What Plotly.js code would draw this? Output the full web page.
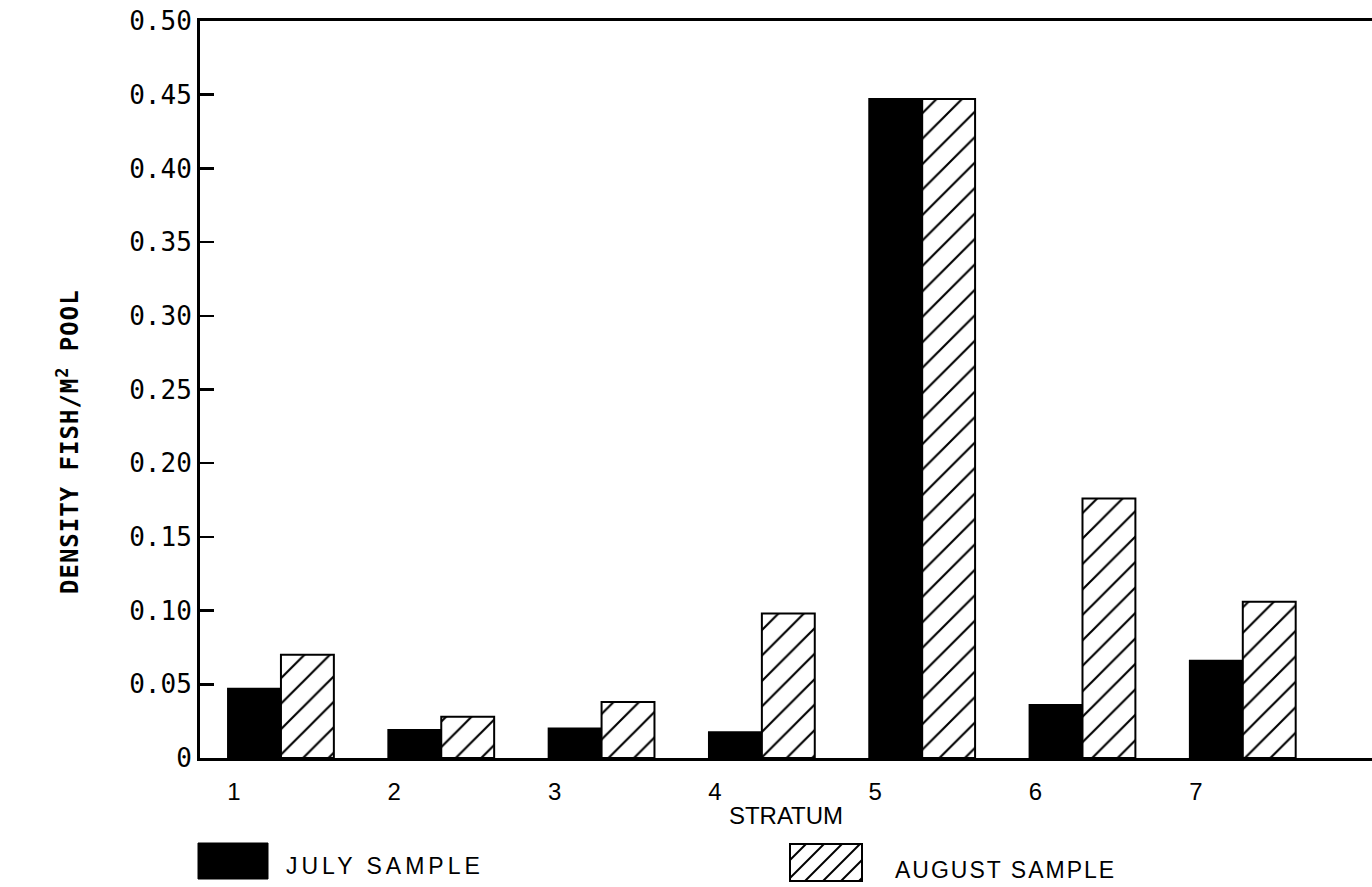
<!DOCTYPE html>
<html>
<head>
<meta charset="utf-8">
<script src="https://cdn.plot.ly/plotly-3.0.1.min.js"></script>
<style>
html,body{margin:0;padding:0;background:#fff;}
#chart{width:1372px;height:887px;}
#chart .annotation[data-index="0"] text{letter-spacing:4px;}
#chart .annotation[data-index="1"] text{letter-spacing:2px;}
#chart .annotation[data-index="2"] text{letter-spacing:1px;}
</style>
</head>
<body>
<div id="chart"></div>
<script>
// ---- data ----
var strata = [1, 2, 3, 4, 5, 6, 7];
var stratumLabels = ['1', '2', '3', '4', '5', '6', '7'];
var julySample = [0.047, 0.019, 0.020, 0.0175, 0.447, 0.036, 0.066];
var augustSample = [0.070, 0.028, 0.038, 0.098, 0.447, 0.176, 0.106];
var yTickValues = [0, 0.05, 0.10, 0.15, 0.20, 0.25, 0.30, 0.35, 0.40, 0.45, 0.50];
var yTickLabels = ['0', '0.05', '0.10', '0.15', '0.20', '0.25', '0.30', '0.35', '0.40', '0.45', '0.50'];
var seriesNames = ['JULY SAMPLE', 'AUGUST SAMPLE'];

// ---- layout geometry (pixels) ----
var W = 1372, H = 887;
var L = 200, R = 1372, T = 21, B = 758;
function px(x) { return (x - L) / (R - L); }
function py(y) { return (B - y) / (B - T); }

var labelOffset = -0.293; // stratum labels sit left of group centre

var traces = [
  {
    type: 'bar', name: seriesNames[0], x: strata, y: julySample,
    marker: { color: '#000', line: { color: '#000', width: 2 } },
    hoverinfo: 'x+y+name'
  },
  {
    type: 'bar', name: seriesNames[1], x: strata, y: augustSample,
    marker: {
      color: '#fff',
      line: { color: '#000', width: 2 },
      pattern: { shape: '/', fgcolor: '#000', bgcolor: '#fff', size: 18, solidity: 0.12 }
    },
    hoverinfo: 'x+y+name'
  }
];

// legend swatches drawn as shapes
var shapes = [];
shapes.push({ type: 'rect', xref: 'paper', yref: 'paper',
  x0: px(198), x1: px(268), y0: py(879), y1: py(843),
  fillcolor: '#000', line: { color: '#000', width: 1 } });
var ax0 = 790, ax1 = 862, ay0 = 844, ay1 = 881;
shapes.push({ type: 'rect', xref: 'paper', yref: 'paper',
  x0: px(ax0), x1: px(ax1), y0: py(ay1), y1: py(ay0),
  fillcolor: '#fff', line: { color: '#000', width: 2 } });
var hW = ay1 - ay0;
for (var k = ax0 - hW + 16; k < ax1; k += 18) {
  var xs = k, ys = ay1, xe = k + hW, ye = ay0;
  if (xs < ax0) { ys = ay1 - (ax0 - xs); xs = ax0; }
  if (xe > ax1) { ye = ay0 + (xe - ax1); xe = ax1; }
  if (xe <= xs) continue;
  shapes.push({ type: 'line', xref: 'paper', yref: 'paper',
    x0: px(xs), y0: py(ys), x1: px(xe), y1: py(ye),
    line: { color: '#000', width: 2 } });
}

var annotations = [
  { text: seriesNames[0], xref: 'paper', yref: 'paper', x: px(306), y: py(866),
    xanchor: 'left', yanchor: 'middle', showarrow: false,
    font: { family: 'Liberation Sans, Arial, sans-serif', size: 23, color: '#000' } },
  { text: seriesNames[1], xref: 'paper', yref: 'paper', x: px(906), y: py(870),
    xanchor: 'left', yanchor: 'middle', showarrow: false,
    font: { family: 'Liberation Sans, Arial, sans-serif', size: 23, color: '#000' } },
  { text: 'DENSITY FISH/M<sup>2</sup> POOL', xref: 'paper', yref: 'paper',
    x: px(68), y: py(442), textangle: -90, xanchor: 'center', yanchor: 'middle', showarrow: false,
    font: { family: 'DejaVu Sans Mono, monospace', size: 24, color: '#000', weight: 'bold' } }
];

var layout = {
  width: W, height: H,
  margin: { l: L, r: W - R, t: T, b: H - B, pad: 0 },
  paper_bgcolor: '#fff', plot_bgcolor: '#fff',
  showlegend: false,
  barmode: 'group', bargap: 0.34, bargroupgap: 0,
  xaxis: {
    range: [0.495, 7.806],
    tickmode: 'array',
    tickvals: strata.map(function (s) { return s + labelOffset; }),
    ticktext: stratumLabels,
    ticks: '', showgrid: false, zeroline: false,
    showline: true, linecolor: '#000', linewidth: 3, mirror: true,
    ticklabelstandoff: 10,
    tickfont: { family: 'Liberation Sans, Arial, sans-serif', size: 24, color: '#000' },
    title: { text: 'STRATUM', standoff: 4,
      font: { family: 'Liberation Sans, Arial, sans-serif', size: 24, color: '#000' } },
    automargin: false, fixedrange: true
  },
  yaxis: {
    range: [0, 0.5],
    tickmode: 'array', tickvals: yTickValues, ticktext: yTickLabels,
    ticks: 'inside', ticklen: 14, tickwidth: 2.5, tickcolor: '#000',
    showgrid: false, zeroline: false,
    showline: true, linecolor: '#000', linewidth: 3,
    ticklabelstandoff: 0,
    tickfont: { family: 'DejaVu Sans Mono, monospace', size: 26, color: '#000' },
    automargin: false, fixedrange: true
  },
  shapes: shapes,
  annotations: annotations
};

Plotly.newPlot('chart', traces, layout, { displayModeBar: false, staticPlot: true });
</script>
</body>
</html>
